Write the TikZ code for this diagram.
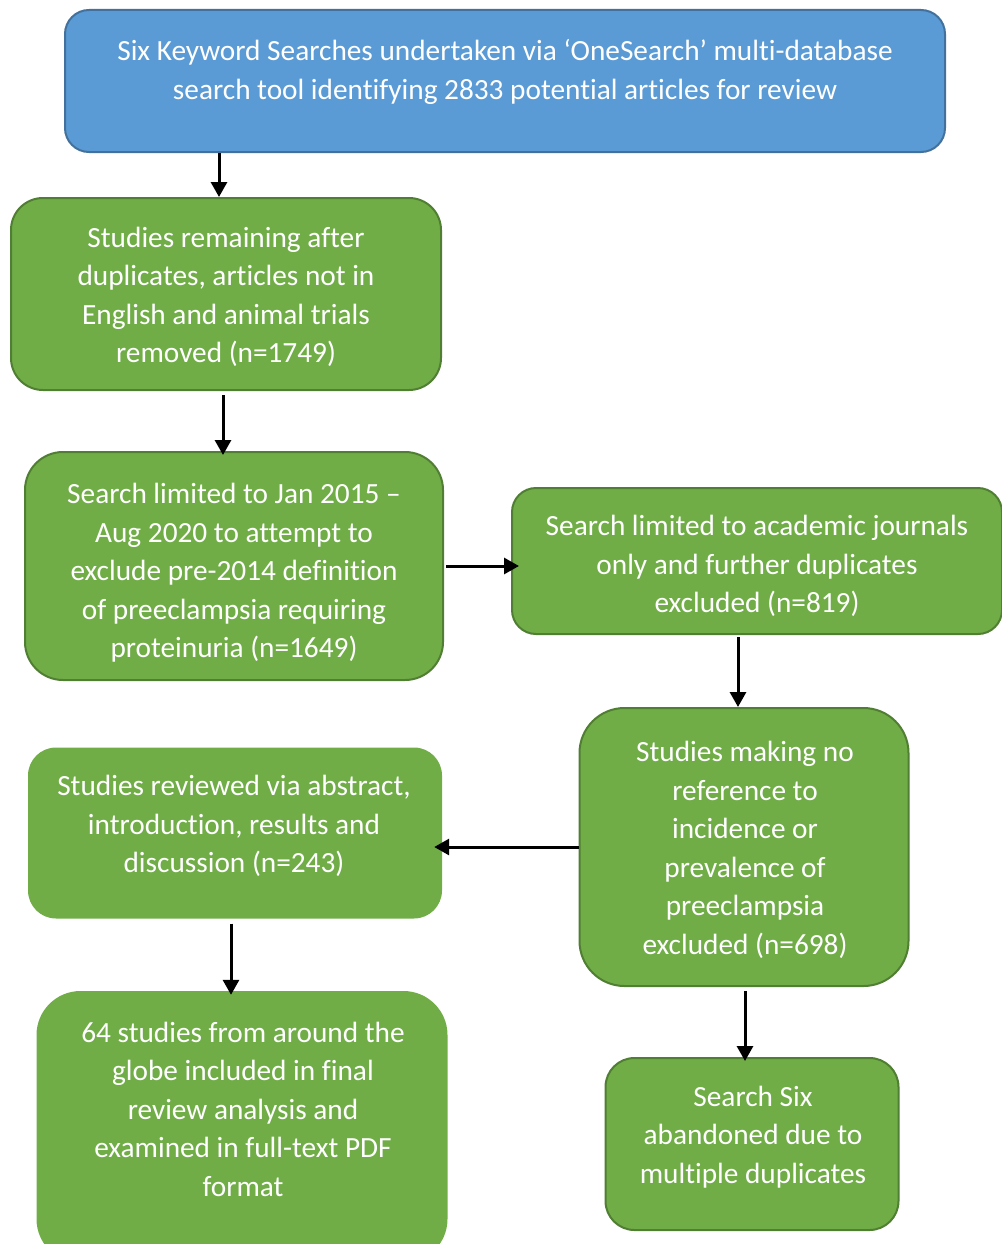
\documentclass[tikz,border=0pt]{standalone}
\usepackage{fontspec}
\setmainfont{Carlito}[Ligatures={NoCommon,NoContextual}, RawFeature={-liga;-clig;-calt}]
\usetikzlibrary{arrows.meta}

\definecolor{boxblue}{HTML}{5B9BD5}
\definecolor{blueedge}{HTML}{41719C}
\definecolor{boxgreen}{HTML}{70AD47}
\definecolor{greenedge}{HTML}{507E32}

\begin{document}
\begin{tikzpicture}[x=1pt, y=-1pt,
    bluebox/.style={rectangle, inner sep=0pt, fill=boxblue, draw=blueedge, line width=2pt},
    greenbox/.style={rectangle, inner sep=0pt, fill=boxgreen, draw=greenedge, line width=2pt},
    flatbox/.style={rectangle, inner sep=0pt, fill=boxgreen},
    boxtext/.style={text=white, align=center, inner sep=0pt, font=\fontsize{29.3}{38.5}\selectfont},
    arrow/.style={line width=3pt, -{Triangle[length=15pt, width=16pt]}}]
  \useasboundingbox (0,0) rectangle (1001,1244);

  % boxes
  \node[bluebox, minimum width=880, minimum height=142, rounded corners=24] (search) at (505,81) {};
  \node[greenbox, minimum width=430, minimum height=192, rounded corners=32] (remain) at (226,294) {};
  \node[greenbox, minimum width=418, minimum height=228, rounded corners=38] (limitdate) at (234,566) {};
  \node[greenbox, minimum width=490, minimum height=146, rounded corners=24] (journals) at (757,561) {};
  \node[flatbox, minimum width=414, minimum height=171, rounded corners=28] (reviewed) at (235,833) {};
  \node[greenbox, minimum width=329, minimum height=278, rounded corners=45] (excluded) at (744,847) {};
  \node[greenbox, minimum width=293, minimum height=172, rounded corners=29] (abandoned) at (752,1144) {};
  \node[flatbox, minimum width=411, minimum height=272, rounded corners=44] (final) at (242,1127) {};

  % texts
  \node[boxtext] (searchtext) at (505,72) {Six Keyword Searches undertaken via ‘OneSearch’ multi-database\\search tool identifying 2833 potential articles for review};
  \node[boxtext] (remaintext) at (226,297) {Studies remaining after\\duplicates, articles not in\\English and animal trials\\removed (n=1749)};
  \node[boxtext] (limitdatetext) at (234,573) {Search limited to Jan 2015 –\\Aug 2020 to attempt to\\exclude pre-2014 definition\\of preeclampsia requiring\\proteinuria (n=1649)};
  \node[boxtext] (journalstext) at (757,566) {Search limited to academic journals\\only and further duplicates\\excluded (n=819)};
  \node[boxtext] (reviewedtext) at (234,826) {Studies reviewed via abstract,\\introduction, results and\\discussion (n=243)};
  \node[boxtext] (excludedtext) at (745,850) {Studies making no\\reference to\\incidence or\\prevalence of\\preeclampsia\\excluded (n=698)};
  \node[boxtext] (abandonedtext) at (753,1137) {Search Six\\abandoned due to\\multiple duplicates};
  \node[boxtext] (finaltext) at (243,1109) {64 studies from around the\\globe included in final\\review analysis and\\examined in full-text PDF\\format};

  % arrows
  \draw[arrow] (search.south -| 219,0) -- (remain.north -| 219,0);
  \draw[arrow, shorten <=4pt, shorten >=-4pt] (remain.south -| 223,0) -- (limitdate.north -| 223,0);
  \draw[arrow, shorten <=2pt, shorten >=-8pt] (limitdate.east) -- (limitdate.east -| journals.west);
  \draw[arrow, shorten <=2pt] (journals.south -| 738,0) -- (excluded.north -| 738,0);
  \draw[arrow, shorten >=-8pt] (excluded.west) -- (excluded.west -| reviewed.east);
  \draw[arrow, shorten <=5pt, shorten >=-4pt] (reviewed.south -| 231,0) -- (final.north -| 231,0);
  \draw[arrow, shorten <=4pt, shorten >=-4pt] (excluded.south -| 745,0) -- (abandoned.north -| 745,0);
\end{tikzpicture}
\end{document}
